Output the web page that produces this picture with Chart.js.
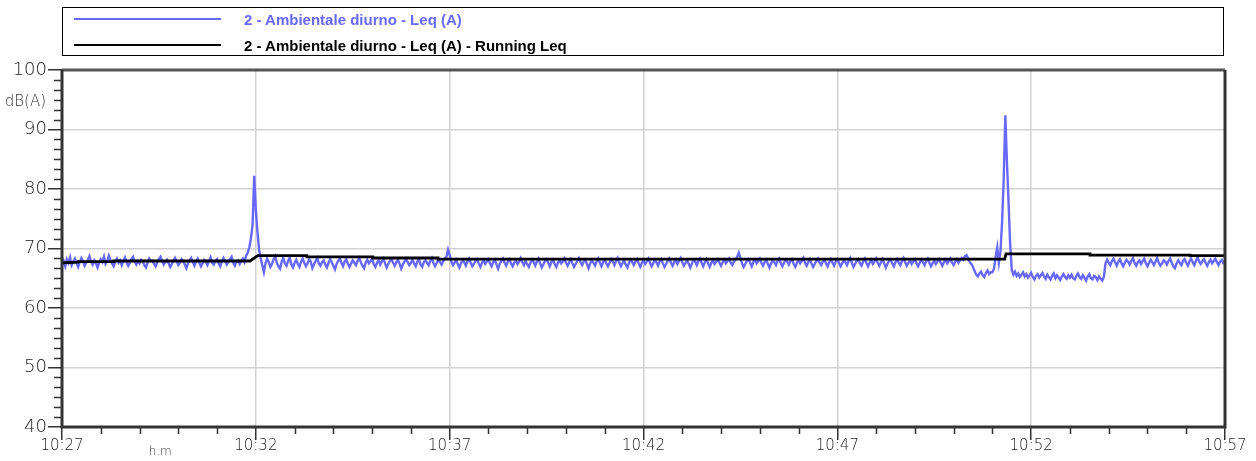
<!DOCTYPE html>
<html>
<head>
<meta charset="utf-8">
<script src="https://cdn.jsdelivr.net/npm/chart.js@4/dist/chart.umd.min.js"></script>
<style>
  html, body { margin: 0; padding: 0; background: #fff; }
  #wrap { position: relative; width: 1256px; height: 461px; }
  #chart { position: absolute; left: 0; top: 0; }
  #legend {
    position: absolute; left: 62px; top: 7px; width: 1162px; height: 49px;
    border: 1px solid #000; box-sizing: border-box;
    font-family: "Liberation Sans", sans-serif;
    font-weight: bold; font-size: 15px;
  }
  .row { position: absolute; left: 0; height: 20px; display: flex; align-items: center; }
  .swatch { position: absolute; left: 11px; width: 147px; height: 2px; }
  .txt { position: absolute; left: 181px; white-space: nowrap; }
</style>
</head>
<body>
<div id="wrap">
  <canvas id="chart" width="1256" height="461"></canvas>
  <div id="legend"></div>
</div>
<script>
// Series names
const seriesNames = [
  '2 - Ambientale diurno - Leq (A)',
  '2 - Ambientale diurno - Leq (A) - Running Leq'
];
const seriesColors = ['rgb(104,104,255)', '#000000'];

// Time axis: seconds from 10:27:00, one label every 5 minutes
const xTickLabels = ['10:27', '10:32', '10:37', '10:42', '10:47', '10:52', '10:57'];
const sampleStep = 2.5; // seconds between Leq samples

// Short Leq (A), one value every 2.5 s; two lines per minute
const leqA = [
  67.3, 67.9, 67.0, 68.2, 67.6, 68.5, 67.2, 67.8, 68.3, 67.5, 66.9, 67.7,
  68.4, 67.9, 67.1, 67.6, 68.1, 68.7, 67.8, 67.3, 68.0, 67.5, 66.8, 67.6,
  68.2, 67.7, 68.6, 67.4, 67.9, 68.8, 68.1, 67.5, 67.0, 67.8, 68.3, 67.6,
  68.0, 67.2, 67.9, 68.5, 67.7, 67.1, 67.6, 68.2, 68.6, 67.8, 67.3, 67.9,
  67.5, 68.1, 67.8, 67.2, 66.8, 67.6, 68.3, 67.9, 68.0, 67.4, 67.0, 67.7,
  68.2, 68.6, 67.9, 67.3, 67.7, 68.1, 67.5, 66.9, 67.4, 68.0, 68.4, 67.8,
  67.2, 67.6, 68.2, 67.9, 67.3, 66.7, 67.5, 68.0, 68.4, 67.7, 67.1, 67.8,
  68.3, 67.6, 67.0, 67.5, 68.1, 67.8, 67.2, 67.9, 68.5, 67.6, 67.3, 67.9,
  68.2, 67.5, 67.0, 67.8, 68.4, 67.9, 67.3, 67.7, 68.2, 68.6, 67.6, 67.1,
  67.8, 68.0, 67.4, 67.9, 68.3, 67.7, 68.8, 69.3, 70.2, 71.8, 74.0, 82.2,
  76.5, 72.8, 69.8, 68.4, 67.2, 66.0, 67.5, 68.3, 67.7, 66.9, 67.4, 68.2,
  68.7, 67.6, 67.0, 66.6, 67.8, 68.4, 67.5, 67.1, 67.9, 68.5, 67.3, 66.8,
  67.6, 68.1, 67.4, 66.9, 67.8, 68.3, 67.6, 67.0, 67.5, 68.2, 67.8, 66.7,
  67.3, 67.9, 68.4, 67.5, 67.1, 67.7, 68.0, 67.3, 66.8, 67.6, 68.2, 67.7,
  67.1, 66.5, 67.4, 67.9, 68.3, 67.6, 67.0, 67.8, 68.2, 67.4, 66.9, 67.5,
  68.0, 67.6, 67.2, 67.9, 68.4, 67.7, 67.1, 66.7, 67.6, 68.1, 67.5, 67.9,
  68.2, 67.4, 66.9, 67.6, 68.0, 67.3, 67.8, 68.3, 67.5, 66.8, 67.4, 67.9,
  68.2, 67.6, 67.1, 67.7, 68.1, 67.4, 66.6, 67.3, 67.8, 68.3, 67.7, 67.2,
  67.6, 68.1, 67.5, 67.0, 67.8, 68.2, 67.3, 66.9, 67.7, 68.0, 67.6, 67.2,
  67.9, 68.4, 67.5, 67.0, 67.6, 68.1, 67.7, 67.3, 67.9, 68.3, 68.6, 69.8,
  68.9, 67.8, 67.2, 67.6, 68.1, 67.4, 66.8, 67.5, 68.0, 67.7, 67.1, 67.8,
  68.3, 67.6, 67.0, 67.4, 67.9, 68.2, 67.5, 66.9, 67.6, 68.0, 67.4, 67.8,
  68.2, 67.5, 67.0, 67.7, 68.1, 67.3, 66.6, 67.4, 67.9, 68.3, 67.6, 67.1,
  67.8, 68.2, 67.5, 67.0, 67.6, 68.0, 67.4, 67.8, 68.4, 67.7, 67.2, 67.9,
  67.4, 66.9, 67.6, 68.1, 67.7, 67.1, 67.8, 68.3, 67.5, 66.8, 67.3, 67.9,
  68.2, 67.6, 67.0, 67.7, 68.1, 67.4, 66.9, 67.6, 68.0, 67.5, 67.8, 68.3,
  67.6, 67.1, 67.7, 68.2, 67.5, 66.9, 67.4, 67.9, 68.4, 67.7, 67.2, 67.8,
  68.1, 67.4, 66.7, 67.5, 68.0, 67.6, 67.1, 67.8, 68.3, 67.6, 67.0, 67.7,
  68.1, 67.5, 67.0, 67.6, 68.2, 67.8, 67.2, 67.9, 68.4, 67.6, 67.0, 67.5,
  68.0, 67.3, 66.8, 67.6, 68.1, 67.7, 67.2, 67.8, 68.2, 67.5, 66.9, 67.6,
  68.0, 67.4, 67.8, 68.3, 67.6, 67.0, 67.5, 68.1, 67.7, 67.1, 67.8, 68.2,
  67.5, 66.9, 67.4, 67.9, 68.3, 67.6, 67.1, 67.7, 68.1, 67.4, 67.9, 68.4,
  67.7, 67.1, 67.6, 68.0, 67.4, 66.8, 67.5, 68.1, 67.8, 67.2, 67.9, 68.3,
  67.6, 67.0, 67.7, 68.2, 67.5, 66.9, 67.6, 68.0, 67.4, 67.8, 68.2, 67.6,
  67.1, 67.7, 68.1, 67.5, 67.9, 68.3, 67.6, 67.2, 67.8, 68.2, 68.6, 69.3,
  68.4, 67.5, 66.9, 67.4, 67.9, 68.2, 67.6, 67.0, 67.7, 68.1, 67.5, 67.9,
  68.3, 67.6, 67.1, 67.7, 68.1, 67.4, 66.8, 67.5, 68.0, 67.7, 67.2, 67.9,
  68.3, 67.5, 67.0, 67.6, 68.1, 67.8, 67.3, 67.9, 68.2, 67.4, 66.9, 67.6,
  68.0, 67.5, 67.9, 68.4, 67.6, 67.1, 67.7, 68.2, 67.5, 66.9, 67.4, 67.9,
  68.3, 67.6, 67.2, 67.8, 68.1, 67.5, 67.0, 67.7, 68.2, 67.6, 67.1, 67.8,
  68.2, 67.6, 67.0, 67.5, 68.0, 67.7, 67.2, 67.9, 68.4, 67.6, 66.9, 67.4,
  67.9, 68.2, 67.5, 67.1, 67.8, 68.3, 67.6, 67.0, 67.6, 68.1, 67.4, 67.8,
  68.3, 67.6, 67.1, 67.7, 68.2, 67.5, 66.8, 67.4, 67.9, 68.1, 67.5, 67.0,
  67.7, 68.2, 67.6, 67.2, 67.9, 68.4, 67.7, 67.1, 67.6, 68.0, 67.4, 67.8,
  68.2, 67.5, 67.0, 67.6, 68.1, 67.7, 67.2, 67.9, 68.3, 67.6, 67.0, 67.5,
  68.0, 67.4, 67.8, 68.2, 67.6, 67.1, 67.7, 68.1, 67.5, 67.9, 68.3, 67.6,
  67.2, 67.8, 68.2, 67.6, 68.0, 68.4, 68.1, 68.7, 68.9, 68.3, 67.7, 67.4,
  66.9, 66.2, 65.6, 65.3, 65.8, 66.1, 65.5, 65.2, 65.9, 66.3, 65.7, 66.0,
  66.0, 66.6, 68.6, 70.2, 67.6, 69.5, 74.5, 81.6, 92.4, 84.5, 77.8, 70.6,
  66.4, 65.6, 66.1, 65.4, 65.8, 65.2, 65.6, 66.0, 65.3, 65.7, 65.1, 65.5,
  65.9, 65.2, 64.8, 65.4, 65.7, 65.1, 65.5, 65.9, 65.3, 64.9, 65.6, 65.2,
  64.8, 65.4, 65.8, 65.0, 65.5, 65.1, 64.7, 65.3, 65.7, 65.2, 64.9, 65.5,
  65.1, 65.6, 65.0, 64.8, 65.4, 65.8, 65.2, 64.9, 65.5, 65.1, 64.6, 65.3,
  65.7, 65.0, 64.8, 65.4, 65.2, 64.7, 65.3, 64.9, 64.6, 65.2, 67.5, 68.1,
  67.6, 67.2, 67.9, 68.3, 67.7, 67.1, 67.8, 68.2, 67.5, 67.0, 67.6, 68.1,
  67.8, 67.3, 67.9, 68.4, 67.6, 67.1, 67.7, 68.0, 67.4, 67.9, 68.3, 67.5,
  67.0, 67.6, 68.1, 67.7, 67.2, 67.8, 68.4, 67.6, 67.1, 67.5, 68.0, 67.8,
  67.3, 67.9, 68.3, 67.6, 67.0, 66.7, 67.5, 68.0, 67.6, 67.2, 67.9, 68.2,
  67.6, 67.1, 67.8, 68.3, 67.7, 67.2, 67.9, 68.5, 67.8, 67.4, 67.9, 68.2,
  67.6, 67.1, 67.7, 68.1, 67.5, 67.9, 68.3, 67.7, 67.2, 67.8, 68.1, 67.5,
  67.4
];

// Running Leq: breakpoints (seconds) and levels
const runTimes = [0, 25, 25, 80, 80, 291, 303, 379, 379, 481, 481, 582, 582, 1459, 1461, 1591, 1591, 1746, 1746, 1800];
const runLeq   = [67.6, 67.7, 67.8, 67.8, 67.9, 67.9, 68.8, 68.8, 68.6, 68.6, 68.4, 68.4, 68.2, 68.2, 69.1, 69.1, 68.9, 68.9, 68.8, 68.8];

const leqPoints = leqA.map((v, i) => ({ x: i * sampleStep, y: v }));
const runPoints = runTimes.map((t, i) => ({ x: t, y: runLeq[i] }));

const tickFont = { family: "'DejaVu Sans'", weight: 200 };

// Minor ticks, plot frame and axis captions
const framePlugin = {
  id: 'frame',
  afterDraw(chart) {
    const { ctx, chartArea: { left, top, right, bottom }, scales: { x, y } } = chart;
    ctx.save();
    ctx.strokeStyle = '#333';
    ctx.lineWidth = 1.5;
    ctx.beginPath();
    for (let s = 60; s < 1800; s += 60) {
      if (s % 300 === 0) continue;
      const px = Math.round(x.getPixelForValue(s)) + 0.5;
      ctx.moveTo(px, bottom); ctx.lineTo(px, bottom + 7);
    }
    for (let k = 1; k < 36; k++) {
      if (k % 6 === 0) continue;
      const py = Math.round(y.getPixelForValue(40 + k * 10 / 6)) + 0.5;
      ctx.moveTo(left - 8, py); ctx.lineTo(left, py);
    }
    ctx.stroke();

    ctx.lineWidth = 3;
    ctx.strokeStyle = '#555';
    ctx.beginPath();
    ctx.moveTo(left, top); ctx.lineTo(right, top);
    ctx.stroke();
    ctx.strokeStyle = '#333';
    ctx.beginPath();
    ctx.moveTo(left, top); ctx.lineTo(left, bottom); ctx.lineTo(right, bottom); ctx.lineTo(right, top);
    ctx.stroke();

    ctx.fillStyle = '#333';
    ctx.font = "200 15px 'DejaVu Sans'";
    ctx.textAlign = 'right';
    ctx.textBaseline = 'middle';
    ctx.fillText('dB(A)', 46, y.getPixelForValue(94.6));
    ctx.font = "200 12px 'DejaVu Sans'";
    ctx.textAlign = 'center';
    ctx.fillText('h.m', x.getPixelForValue(152), bottom + 25);
    ctx.restore();
  }
};

const chart = new Chart(document.getElementById('chart'), {
  type: 'line',
  data: {
    datasets: [
      {
        label: seriesNames[0], data: leqPoints, borderColor: seriesColors[0],
        borderWidth: 2.4, pointRadius: 0, tension: 0, order: 2
      },
      {
        label: seriesNames[1], data: runPoints, borderColor: seriesColors[1],
        borderWidth: 2.8, pointRadius: 0, tension: 0, order: 1
      }
    ]
  },
  options: {
    responsive: false,
    animation: false,
    events: [],
    layout: { padding: { top: 70, right: 31, left: 0, bottom: 0 } },
    plugins: { legend: { display: false }, tooltip: { enabled: false } },
    scales: {
      x: {
        type: 'linear', min: 0, max: 1800,
        afterFit(s) { s.height = 34; },
        border: { display: false },
        grid: {
          color: c => (c.tick && (c.tick.value === 0 || c.tick.value === 1800)) ? 'rgba(0,0,0,0)' : '#d2d2d2',
          lineWidth: 1.5, tickLength: 13, tickColor: '#333', tickWidth: 1.5
        },
        ticks: {
          stepSize: 300, autoSkip: false, maxRotation: 0, padding: -3,
          color: '#222', font: Object.assign({ size: 15 }, tickFont),
          callback: v => xTickLabels[Math.round(v / 300)]
        }
      },
      y: {
        min: 40, max: 100,
        afterFit(s) { s.width = 62; },
        border: { display: false },
        grid: {
          color: c => (c.tick && (c.tick.value === 40 || c.tick.value === 100)) ? 'rgba(0,0,0,0)' : '#d2d2d2',
          lineWidth: 1.5, tickLength: 14, tickColor: '#333', tickWidth: 1.5
        },
        ticks: {
          stepSize: 10, padding: 1, color: '#222',
          font: Object.assign({ size: 18 }, tickFont)
        }
      }
    }
  },
  plugins: [framePlugin]
});

// Legend rows built from the chart's datasets
const legendEl = document.getElementById('legend');
chart.data.datasets.forEach((ds, i) => {
  const row = document.createElement('div');
  row.className = 'row';
  row.style.top = (i === 0 ? 1 : 27) + 'px';
  row.style.width = '100%';
  const sw = document.createElement('div');
  sw.className = 'swatch';
  sw.style.background = ds.borderColor;
  const tx = document.createElement('div');
  tx.className = 'txt';
  tx.style.color = i === 0 ? seriesColors[0] : '#000';
  tx.textContent = ds.label;
  row.appendChild(sw);
  row.appendChild(tx);
  legendEl.appendChild(row);
});
</script>
</body>
</html>
